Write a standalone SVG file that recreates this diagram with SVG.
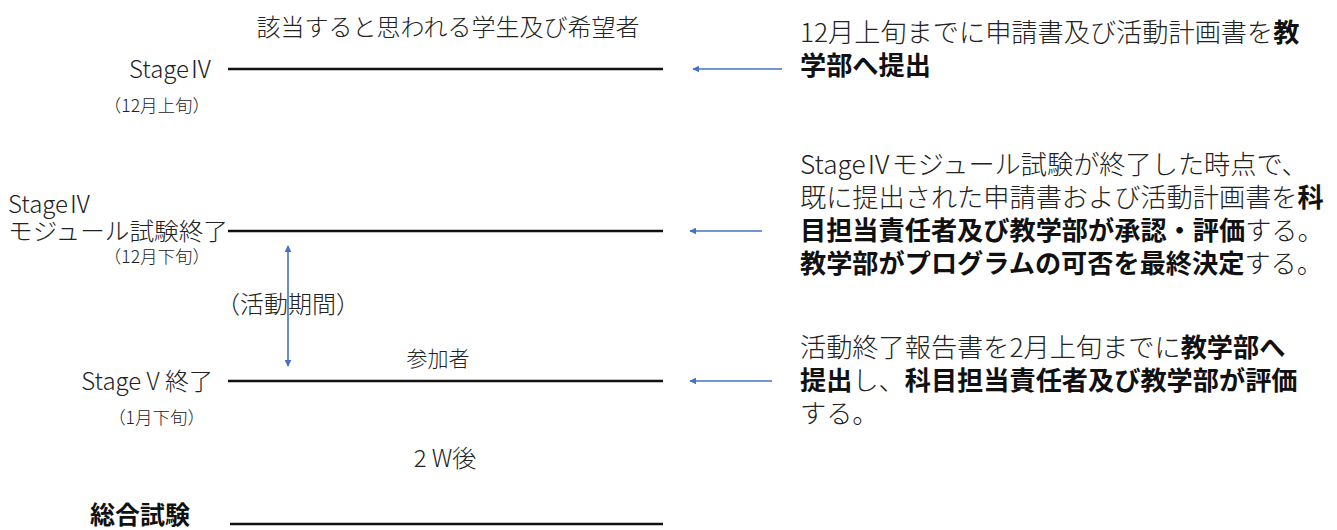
<svg xmlns="http://www.w3.org/2000/svg" width="1337" height="530" viewBox="0 0 1337 530">
<style>
text{font-family:"Noto Sans CJK JP","Noto Sans",sans-serif;fill:#222;font-weight:300}
.lbl{font-size:24px}
.sm{font-size:17.5px}
.desc{font-size:26.2px}
.b{font-weight:bold;fill:#111}
.tl{stroke:#111;stroke-width:2.6}
.ar{stroke:#4472C4;stroke-width:1.6;fill:none}
</style>
<defs>
<marker id="ah" viewBox="0 0 10 10" refX="9" refY="5" markerWidth="7" markerHeight="7" markerUnits="userSpaceOnUse" orient="auto-start-reverse">
<path d="M0,0 L10,5 L0,10 z" fill="#4472C4"/>
</marker>
</defs>
<rect width="1337" height="530" fill="#fff"/>
<text class="lbl" x="448" y="36" text-anchor="middle">該当すると思われる学生及び希望者</text>
<g id="stage4">
<text class="lbl" x="213" y="78" text-anchor="end">StageⅣ</text>
<text class="sm" x="210" y="112" text-anchor="end">（12月上旬）</text>
<line class="tl" x1="228" y1="69" x2="663" y2="69"/>
</g>
<g id="stage4end">
<text class="lbl" x="8" y="213">StageⅣ</text>
<text class="lbl" x="228" y="240" text-anchor="end" textLength="220" lengthAdjust="spacingAndGlyphs">モジュール試験終了</text>
<text class="sm" x="210" y="263" text-anchor="end">（12月下旬）</text>
<line class="tl" x1="228" y1="231" x2="663" y2="231"/>
</g>
<g id="period">
<text class="lbl" x="288" y="313" text-anchor="middle">（活動期間）</text>
</g>
<g id="stage5">
<text class="lbl" x="438" y="366" text-anchor="middle" style="font-size:21px">参加者</text>
<text class="lbl" x="213" y="390" text-anchor="end">Stage V 終了</text>
<text class="sm" x="205" y="424" text-anchor="end">（1月下旬）</text>
<line class="tl" x1="228" y1="381" x2="663" y2="381"/>
</g>
<g id="gap">
<text class="lbl" x="445" y="467" text-anchor="middle">2 W後</text>
</g>
<g id="exam">
<text class="lbl b" x="190" y="524" text-anchor="end" style="font-size:25px">総合試験</text>
<line class="tl" x1="230" y1="524" x2="663" y2="524"/>
</g>
<g id="desc1">
<text class="desc" x="800" y="42">12月上旬までに申請書及び活動計画書を<tspan class="b">教</tspan></text>
<text class="desc b" x="800" y="75">学部へ提出</text>
</g>
<g id="desc2">
<text class="desc" x="800" y="174">StageⅣモジュール試験が終了した時点で、</text>
<text class="desc" x="800" y="207">既に提出された申請書および活動計画書を<tspan class="b">科</tspan></text>
<text class="desc" x="800" y="240"><tspan class="b">目担当責任者及び教学部が承認・評価</tspan>する。</text>
<text class="desc" x="800" y="273"><tspan class="b">教学部がプログラムの可否を最終決定</tspan>する。</text>
</g>
<g id="desc3">
<text class="desc" x="800" y="357">活動終了報告書を2月上旬までに<tspan class="b">教学部へ</tspan></text>
<text class="desc" x="800" y="390"><tspan class="b">提出</tspan>し、<tspan class="b">科目担当責任者及び教学部が評価</tspan></text>
<text class="desc" x="800" y="423">する。</text>
</g>
<g id="connectors">
<line class="ar" x1="782" y1="69" x2="693" y2="69" marker-end="url(#ah)"/>
<line class="ar" x1="762" y1="231" x2="690" y2="231" marker-end="url(#ah)"/>
<line class="ar" x1="772" y1="381" x2="690" y2="381" marker-end="url(#ah)"/>
<line class="ar" x1="288" y1="366" x2="288" y2="246" marker-start="url(#ah)" marker-end="url(#ah)"/>
</g>
</svg>
